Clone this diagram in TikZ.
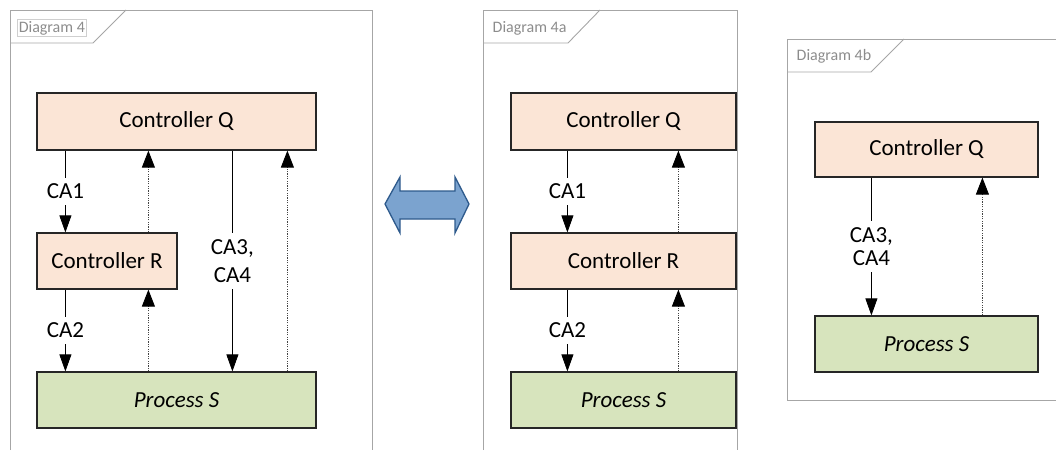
\documentclass[tikz,border=0pt]{standalone}
\usepackage{fontspec}
\setmainfont{Carlito}
\usetikzlibrary{arrows.meta}
\definecolor{ctrlfill}{HTML}{FBE5D6}
\definecolor{procfill}{HTML}{D7E4BD}
\definecolor{framegray}{HTML}{A6A6A6}
\definecolor{tabtext}{HTML}{8C8C8C}
\definecolor{tabbox}{HTML}{CFCFCF}
\definecolor{arrowfill}{HTML}{7BA3CF}
\definecolor{arrowline}{HTML}{2E5A8C}
\definecolor{boxline}{HTML}{262626}
\definecolor{dotline}{HTML}{444444}
\tikzset{
  block/.style={draw=boxline, line width=1.2pt, inner sep=0pt,
    font=\fontsize{23}{28}\selectfont},
  ctrl/.style={block, fill=ctrlfill},
  proc/.style={block, fill=procfill, font=\fontsize{23}{28}\selectfont\itshape},
  cmdarrow/.style={draw=black, line width=0.8pt, -{Triangle[length=17pt,width=12pt]}},
  fbarrow/.style={draw=dotline, line width=0.9pt, dash pattern=on 1.2pt off 1.2pt,
    -{Triangle[length=17pt,width=13pt,fill=black,color=black]}},
  cmdlabel/.style={fill=white, inner xsep=2pt, inner ysep=6pt, align=center,
    font=\fontsize{23}{28}\selectfont},
  frameline/.style={draw=framegray, line width=0.9pt},
  tabtitle/.style={text=tabtext, font=\fontsize{16}{19}\selectfont, inner sep=1.5pt, anchor=west}
}
\begin{document}
\begin{tikzpicture}[x=1pt, y=-1pt]
\clip (0,0) rectangle (1056,450);

% ---------- frame: Diagram 4 ----------
\draw[frameline] (10,450) -- (10,10) -- (372,10) -- (372,450);
\draw[frameline] (10,43) -- (93,43) -- (126,10);
\node[tabtitle, draw=tabbox, line width=0.5pt] (t1) at (17,28) {Diagram 4};

\node[ctrl, minimum width=279pt, minimum height=57pt] (q1) at (176.5,121.5) {Controller Q};
\node[ctrl, minimum width=140pt, minimum height=56pt] (r1) at (107,261) {Controller R};
\node[proc, minimum width=279pt, minimum height=56pt] (p1) at (176.5,400) {Process S};

\draw[cmdarrow] ([xshift=29pt]q1.south west) -- node[cmdlabel] {CA1} ([xshift=29pt]r1.north west);
\draw[fbarrow] ([xshift=112pt]r1.north west) -- ([xshift=112pt]q1.south west);
\draw[cmdarrow] ([xshift=29pt]r1.south west) -- node[cmdlabel] {CA2} ([xshift=29pt]p1.north west);
\draw[fbarrow] ([xshift=112pt]p1.north west) -- ([xshift=112pt]r1.south west);
\draw[cmdarrow] ([xshift=196pt]q1.south west) -- node[cmdlabel] {CA3,\\CA4} ([xshift=196pt]p1.north west);
\draw[fbarrow] ([xshift=251pt]p1.north west) -- ([xshift=251pt]q1.south west);

% ---------- double arrow between the frames ----------
\draw[fill=arrowfill, draw=arrowline, line width=1.3pt, line join=miter]
  (385,204) -- (400,177) -- (400,191) -- (455,191) -- (455,177) -- (469,204)
  -- (455,233) -- (455,219) -- (400,219) -- (400,233) -- cycle;

% ---------- frame: Diagram 4a ----------
\draw[frameline] (483,450) -- (483,10) -- (737,10) -- (737,450);
\draw[frameline] (483,43) -- (568,43) -- (600,10);
\node[tabtitle] (t2) at (491,28) {Diagram 4a};

\node[ctrl, minimum width=225pt, minimum height=57pt] (q2) at (623.5,121.5) {Controller Q};
\node[ctrl, minimum width=225pt, minimum height=56pt] (r2) at (623.5,261) {Controller R};
\node[proc, minimum width=225pt, minimum height=56pt] (p2) at (623.5,400) {Process S};

\draw[cmdarrow] ([xshift=57pt]q2.south west) -- node[cmdlabel] {CA1} ([xshift=57pt]r2.north west);
\draw[fbarrow] ([xshift=168pt]r2.north west) -- ([xshift=168pt]q2.south west);
\draw[cmdarrow] ([xshift=57pt]r2.south west) -- node[cmdlabel] {CA2} ([xshift=57pt]p2.north west);
\draw[fbarrow] ([xshift=168pt]p2.north west) -- ([xshift=168pt]r2.south west);

% ---------- frame: Diagram 4b ----------
\draw[frameline] (1060,39) -- (787,39) -- (787,400) -- (1060,400);
\draw[frameline] (787,72) -- (871,72) -- (904,39);
\node[tabtitle] (t3) at (795,56) {Diagram 4b};

\node[ctrl, minimum width=223pt, minimum height=55pt] (q3) at (926.5,149.5) {Controller Q};
\node[proc, minimum width=223pt, minimum height=56pt] (p3) at (926.5,344) {Process S};

\draw[cmdarrow] ([xshift=57pt]q3.south west) -- node[cmdlabel, font=\fontsize{23}{23}\selectfont] {CA3,\\CA4} ([xshift=57pt]p3.north west);
\draw[fbarrow] ([xshift=168pt]p3.north west) -- ([xshift=168pt]q3.south west);
\end{tikzpicture}
\end{document}
